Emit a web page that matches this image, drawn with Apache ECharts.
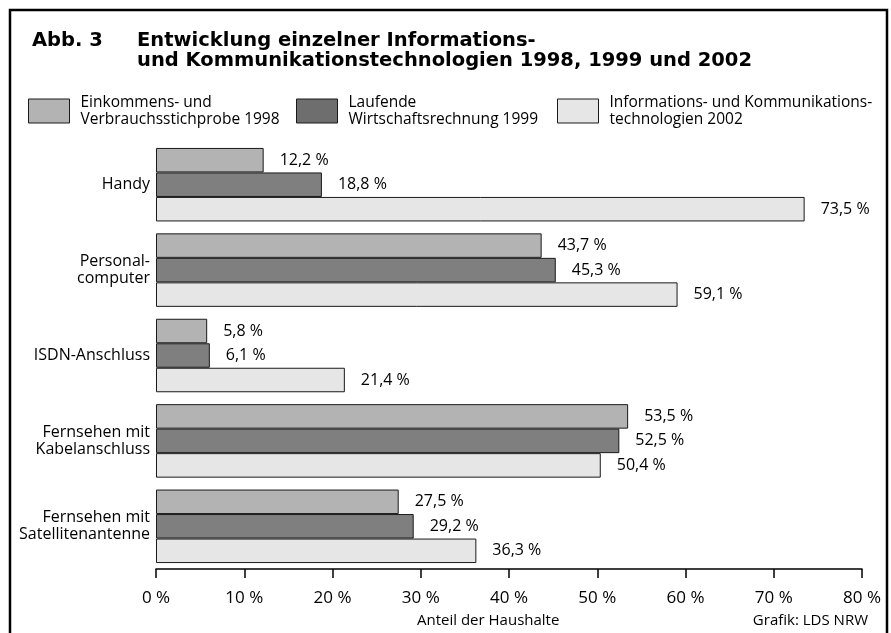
<!DOCTYPE html>
<html>
<head>
<meta charset="utf-8">
<script src="https://cdn.jsdelivr.net/npm/echarts@6/dist/echarts.min.js"></script>
<style>
  html, body { margin: 0; padding: 0; background: #fff; }
  #chart { width: 891px; height: 633px; }
</style>
</head>
<body>
<div id="chart"></div>
<script>
// Daten
const categories = ['Handy', 'Personal-\ncomputer', 'ISDN-Anschluss', 'Fernsehen mit\nKabelanschluss', 'Fernsehen mit\nSatellitenantenne']
const seriesNames = ['Einkommens- und\nVerbrauchsstichprobe 1998', 'Laufende\nWirtschaftsrechnung 1999', 'Informations- und Kommunikations-\ntechnologien 2002']
const evs1998 = [12.2, 43.7, 5.8, 53.5, 27.5]
const lwr1999 = [18.8, 45.3, 6.1, 52.5, 29.2]
const ikt2002 = [73.5, 59.1, 21.4, 50.4, 36.3]
const xTicks = [0, 10, 20, 30, 40, 50, 60, 70, 80]

const font = 'Open Sans'
const titleFont = 'DejaVu Sans'
const barColors = ['#b3b3b3', '#7f7f7f', '#e6e6e6']
const legendColors = ['#b3b3b3', '#6e6e6e', '#e6e6e6']
const legendLeft = [28, 296, 557]

const fmt = (v) => v.toFixed(1).replace('.', ',') + ' %'

const chart = echarts.init(document.getElementById('chart'))

const makeSeries = (name, data, i) => ({
  name: name,
  type: 'bar',
  data: data,
  barWidth: 24.5,
  barGap: '0%',
  itemStyle: {
    color: barColors[i],
    borderColor: '#1a1a1a',
    borderWidth: 1
  },
  label: {
    show: true,
    position: 'right',
    distance: 16,
    fontFamily: font,
    fontSize: 16,
    color: '#000',
    formatter: (p) => fmt(p.value)
  },
  animation: false
})

const option = {
  backgroundColor: '#fff',
  textStyle: { fontFamily: font },
  title: [{
    text: 'Abb. 3',
    left: 32,
    top: 31,
    padding: 0,
    textStyle: { fontFamily: titleFont, fontSize: 19.5, fontWeight: 'bold', color: '#000', lineHeight: 20 }
  }, {
    text: 'Entwicklung einzelner Informations-\nund Kommunikationstechnologien 1998, 1999 und 2002',
    left: 137,
    top: 31,
    padding: 0,
    textStyle: { fontFamily: titleFont, fontSize: 19.5, fontWeight: 'bold', color: '#000', lineHeight: 20 }
  }],
  legend: seriesNames.map((name, i) => ({
    left: legendLeft[i],
    top: 94,
    padding: 0,
    itemWidth: 41,
    itemHeight: 24,
    icon: 'rect',
    selectedMode: false,
    data: [{
      name: name,
      itemStyle: { color: legendColors[i], borderColor: '#1a1a1a', borderWidth: 1 }
    }],
    textStyle: {
      fontFamily: font,
      fontSize: 15.5,
      lineHeight: 17,
      color: '#000',
      padding: [0, 0, 0, 6]
    }
  })),
  grid: {
    left: 156,
    top: 142,
    width: 706,
    height: 427
  },
  xAxis: {
    type: 'value',
    min: 0,
    max: 80,
    interval: 10,
    splitLine: { show: false },
    axisLine: { show: true, lineStyle: { color: '#000', width: 1.5 } },
    axisTick: { show: true, length: 9, lineStyle: { color: '#000', width: 1.5 } },
    axisLabel: {
      margin: 21,
      fontFamily: font,
      fontSize: 17,
      color: '#000',
      formatter: (v) => xTicks.includes(v) ? v + ' %' : ''
    }
  },
  yAxis: {
    type: 'category',
    data: categories,
    inverse: true,
    axisLine: { show: false },
    axisTick: { show: false },
    axisLabel: {
      margin: 6,
      fontFamily: font,
      fontSize: 16,
      lineHeight: 17,
      color: '#000'
    }
  },
  series: [
    makeSeries(seriesNames[0], evs1998, 0),
    makeSeries(seriesNames[1], lwr1999, 1),
    makeSeries(seriesNames[2], ikt2002, 2)
  ],
  graphic: [{
    type: 'rect',
    shape: { x: 10, y: 10, width: 877, height: 660 },
    style: { fill: 'none', stroke: '#000', lineWidth: 2.5 },
    silent: true
  }, {
    type: 'text',
    left: 417,
    top: 613,
    style: { text: 'Anteil der Haushalte', font: '15px "Open Sans"', fill: '#000' }
  }, {
    type: 'text',
    right: 23,
    top: 613,
    style: { text: 'Grafik: LDS NRW', font: '15px "Open Sans"', fill: '#000' }
  }]
}

chart.setOption(option)
</script>
</body>
</html>
